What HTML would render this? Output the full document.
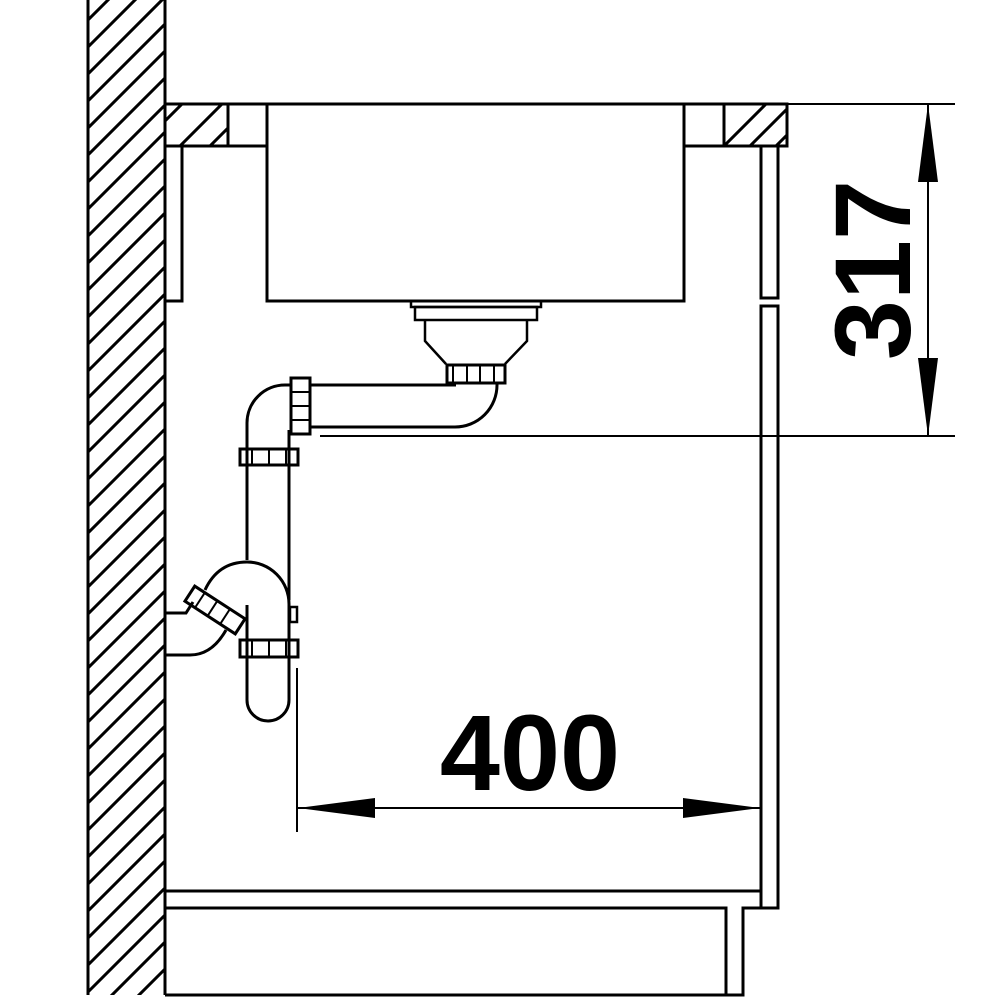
<!DOCTYPE html>
<html><head><meta charset="utf-8"><style>html,body{margin:0;padding:0;background:#fff;width:1000px;height:1000px;overflow:hidden}svg{display:block}</style></head>
<body>
<svg width="1000" height="1000" viewBox="0 0 1000 1000" xmlns="http://www.w3.org/2000/svg">
<defs>
<clipPath id="cw"><rect x="88" y="0" width="77" height="995"/></clipPath>
<clipPath id="cl"><rect x="165" y="104" width="63" height="42"/></clipPath>
<clipPath id="cr"><rect x="724" y="104" width="63" height="42"/></clipPath>
</defs>
<g stroke="#000" stroke-width="3" clip-path="url(#cw)">
<path d="M88,20 l77,-77 M88,47 l77,-77 M88,74 l77,-77 M88,101 l77,-77 M88,128 l77,-77 M88,155 l77,-77 M88,182 l77,-77 M88,209 l77,-77 M88,236 l77,-77 M88,263 l77,-77 M88,290 l77,-77 M88,317 l77,-77 M88,344 l77,-77 M88,371 l77,-77 M88,398 l77,-77 M88,425 l77,-77 M88,452 l77,-77 M88,479 l77,-77 M88,506 l77,-77 M88,533 l77,-77 M88,560 l77,-77 M88,587 l77,-77 M88,614 l77,-77 M88,641 l77,-77 M88,668 l77,-77 M88,695 l77,-77 M88,722 l77,-77 M88,749 l77,-77 M88,776 l77,-77 M88,803 l77,-77 M88,830 l77,-77 M88,857 l77,-77 M88,884 l77,-77 M88,911 l77,-77 M88,938 l77,-77 M88,965 l77,-77 M88,992 l77,-77 M88,1019 l77,-77 M88,1046 l77,-77 M88,1073 l77,-77"/>
</g>
<g stroke="#000" stroke-width="3" clip-path="url(#cl)">
<path d="M150,176 l80,-80 M190,166 l80,-80 M228,156 l80,-80 M150,136 l80,-80"/>
</g>
<g stroke="#000" stroke-width="3" clip-path="url(#cr)">
<path d="M704,166 l80,-80 M730,166 l80,-80 M756,166 l80,-80 M782,166 l80,-80"/>
</g>
<g fill="none" stroke="#000" stroke-width="3">
<line x1="88" y1="0" x2="88" y2="995"/>
<line x1="165" y1="0" x2="165" y2="995"/>
<rect x="165" y="104" width="63" height="42"/>
<rect x="724" y="104" width="63" height="42"/>
<line x1="165" y1="104" x2="787" y2="104"/>
<line x1="165" y1="146" x2="266" y2="146"/>
<line x1="684" y1="146" x2="787" y2="146"/>
<rect x="267" y="104" width="417" height="197"/>
<rect x="165" y="146" width="17" height="155"/>
<rect x="761" y="146" width="17" height="152"/>
<rect x="761" y="306" width="17" height="602"/>
<line x1="165" y1="891" x2="761" y2="891"/>
<polyline points="165,908 726,908 726,995"/>
<polyline points="778,908 743,908 743,995 165,995"/>
<rect x="411" y="301" width="130" height="6" stroke-width="2.5"/>
<rect x="415" y="307" width="122" height="13" stroke-width="2.5"/>
<polyline points="425,320 425,341 446,364" stroke-width="2.5"/>
<polyline points="527,320 527,341 505,364" stroke-width="2.5"/>
<rect x="447" y="365" width="58" height="18" stroke-width="3"/>
<g stroke-width="2"><line x1="453" y1="365" x2="453" y2="383"/><line x1="467" y1="365" x2="467" y2="383"/><line x1="480" y1="365" x2="480" y2="383"/><line x1="494" y1="365" x2="494" y2="383"/></g>
<line x1="310" y1="385" x2="456" y2="385"/>
<path d="M310,427 H455 A42,42 0 0 0 497,385 V383"/>
<rect x="291" y="378" width="19" height="56"/>
<g stroke-width="2"><line x1="291" y1="392" x2="310" y2="392"/><line x1="291" y1="406" x2="310" y2="406"/><line x1="291" y1="420" x2="310" y2="420"/></g>
<path d="M291,385 H285 A38,38 0 0 0 247,423 V560"/>
<line x1="289" y1="430" x2="289" y2="600"/>
<rect x="240" y="449" width="58" height="16"/>
<g stroke-width="2"><line x1="252" y1="449" x2="252" y2="465"/><line x1="269" y1="449" x2="269" y2="465"/><line x1="286" y1="449" x2="286" y2="465"/></g>
<path d="M205,590 Q218,562 247,562 A42,42 0 0 1 289,604"/>
<line x1="247" y1="605" x2="247" y2="700"/>
<line x1="289" y1="604" x2="289" y2="700"/>
<path d="M247,700 A21,21 0 0 0 289,700"/>
<rect x="290" y="607" width="7" height="15" stroke-width="2.5"/>
<rect x="240" y="640" width="58" height="17"/>
<g stroke-width="2"><line x1="252" y1="640" x2="252" y2="657"/><line x1="269" y1="640" x2="269" y2="657"/><line x1="286" y1="640" x2="286" y2="657"/></g>
<rect x="185" y="601" width="60" height="18" transform="rotate(33 215 610)"/>
<g transform="rotate(33 215 610)" stroke-width="2"><line x1="197" y1="601" x2="197" y2="619"/><line x1="212" y1="601" x2="212" y2="619"/><line x1="227" y1="601" x2="227" y2="619"/></g>
<polyline points="165,613 186,613 193,602"/>
<path d="M165,655 H190 Q212,655 226,630"/>
<line x1="320" y1="436" x2="955" y2="436" stroke-width="2"/>
<line x1="787" y1="104" x2="955" y2="104" stroke-width="2"/>
<line x1="928" y1="104" x2="928" y2="436" stroke-width="2"/>
<line x1="297" y1="668" x2="297" y2="832" stroke-width="2"/>
<line x1="297" y1="808" x2="761" y2="808" stroke-width="2"/>
</g>
<g fill="#000">
<polygon points="928,104 918,182 938,182"/>
<polygon points="928,436 918,358 938,358"/>
<polygon points="298,808 375,798 375,818"/>
<polygon points="760,808 683,798 683,818"/>
</g>
<text x="530" y="790" font-family="Liberation Sans, sans-serif" font-weight="bold" font-size="108" text-anchor="middle">400</text>
<text transform="translate(910,270) rotate(-90)" x="0" y="0" font-family="Liberation Sans, sans-serif" font-weight="bold" font-size="108" text-anchor="middle">317</text>
</svg>
</body></html>
